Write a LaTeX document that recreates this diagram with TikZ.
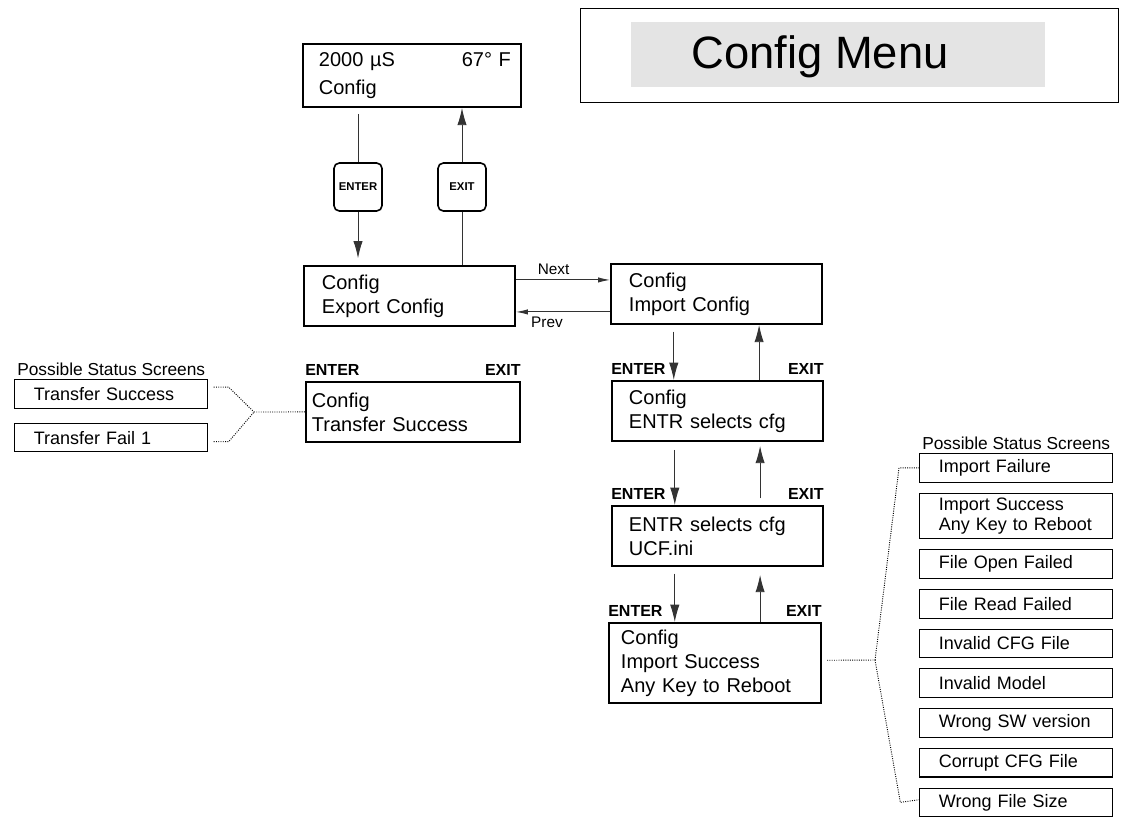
\documentclass[tikz,border=0pt]{standalone}
\usepackage{fontspec}
\setmainfont{Liberation Sans}
\usepackage{tikz}
\usetikzlibrary{positioning}
\usetikzlibrary{arrows.meta}
\definecolor{menugray}{HTML}{E4E4E4}
\tikzset{screen/.style={draw, line width=1.4pt, anchor=north west, align=left, inner ysep=0pt, minimum height=45pt, font=\fontsize{15}{18}\selectfont}}
\tikzset{status/.style={draw, line width=0.8pt, align=left, text width=116pt, inner xsep=14.5pt, inner ysep=0pt, minimum height=21.5pt, font=\fontsize{13.5}{15}\selectfont}}
\tikzset{key/.style={draw, line width=1.2pt, rounded corners=4pt, minimum size=36pt, inner sep=0pt, font=\fontsize{8.5}{10}\selectfont\bfseries}}
\tikzset{keylbl/.style={inner xsep=0pt, inner ysep=4pt, font=\fontsize{12}{14}\selectfont\bfseries}}
\tikzset{caption/.style={inner sep=1pt, font=\fontsize{13}{15}\selectfont}}
\tikzset{conn/.style={line width=0.7pt, draw=black!80}}
\tikzset{arr/.style={conn, -{Latex[length=13pt,width=7pt]}}}
\tikzset{arrs/.style={conn, -{Latex[length=9pt,width=4pt]}}}
\tikzset{dots/.style={line width=0.7pt, densely dotted}}

\begin{document}
\begin{tikzpicture}[x=0.75pt, y=-0.75pt, node distance=7.5pt]
\useasboundingbox (0,0) rectangle (1126,818);

\node[draw, line width=1.1pt, anchor=north west, minimum width=403.5pt, minimum height=70.5pt] (menu) at (580,8) {};
\node[fill=menugray, anchor=north west, minimum width=310.5pt, minimum height=48.75pt] (menufill) at (631,22) {};
\node[font=\fontsize{34}{40}\selectfont, anchor=base] (menutxt) at (820,68) {Config Menu};

\node[screen, text width=148.5pt, inner xsep=7.5pt, minimum height=47.25pt, font=\fontsize{15}{21}\selectfont] (top) at (302,43) {\makebox[\linewidth]{\hspace*{4.5pt}2000 µS\hfill 67° F}\\\hspace*{4.5pt}Config};
\node[key] (kenter) at (358,187) {ENTER};
\node[key] (kexit) at (462,187) {EXIT};
\node[screen, text width=131.25pt, inner xsep=13.5pt] (export) at (303,265) {Config\\Export Config};
\node[screen, text width=131.25pt, inner xsep=13.5pt] (import) at (610,263) {Config\\Import Config};
\node[screen, text width=132.75pt, inner xsep=12.75pt] (entr1) at (611,380) {Config\\ENTR selects cfg};
\node[screen, text width=132.75pt, inner xsep=12.75pt] (entr2) at (611,505) {ENTR selects cfg\\UCF.ini};
\node[screen, text width=141pt, inner xsep=9pt, minimum height=60pt] (success) at (608,622) {Config\\Import Success\\Any Key to Reboot};
\node[screen, text width=151.5pt, inner xsep=4.5pt] (transfer) at (305,381) {Config\\Transfer Success};

\node[keylbl, anchor=south west] (en1) at (entr1.north west) {ENTER};
\node[keylbl, anchor=south east] (ex1) at (entr1.north east) {EXIT};
\node[keylbl, anchor=south west] (en2) at (entr2.north west) {ENTER};
\node[keylbl, anchor=south east] (ex2) at (entr2.north east) {EXIT};
\node[keylbl, anchor=south west] (en3) at (success.north west) {ENTER};
\node[keylbl, anchor=south east] (ex3) at (success.north east) {EXIT};
\node[keylbl, anchor=south west] (en4) at (transfer.north west) {ENTER};
\node[keylbl, anchor=south east] (ex4) at (transfer.north east) {EXIT};

\node[status, anchor=north west] (ts) at (14,379) {Transfer Success};
\node[status, below=10.5pt of ts] (tf) {Transfer Fail 1};
\node[caption, above=1pt of ts] (capl) {Possible Status Screens};

\node[status, anchor=north west] (f1) at (919,453) {Import Failure};
\node[status, below=of f1, minimum height=34pt] (f2) {Import Success\\Any Key to Reboot};
\node[status, below=of f2] (f3) {File Open Failed};
\node[status, below=of f3] (f4) {File Read Failed};
\node[status, below=of f4] (f5) {Invalid CFG File};
\node[status, below=of f5] (f6) {Invalid Model};
\node[status, below=of f6] (f7) {Wrong SW version};
\node[status, below=of f7] (f8) {Corrupt CFG File};
\node[status, below=of f8] (f9) {Wrong File Size};
\node[caption, above=1pt of f1] (capr) {Possible Status Screens};

\draw[conn, shorten <=4.5pt] (kenter.north |- top.south) -- (kenter.north);
\draw[arr, shorten >=5pt] (kenter.south) -- (kenter.south |- export.north);
\draw[conn] (kexit.south |- export.north) -- (kexit.south);
\draw[arr] (kexit.north) -- (kexit.north |- top.south);

\draw[arrs] ([yshift=12pt]export.east) -- node[above, pos=0.4, font=\fontsize{11.5}{13}\selectfont] (nx) {Next} ([yshift=12pt]export.east -| import.west);
\draw[arrs] ([yshift=-12pt]export.east -| import.west) -- node[below, pos=0.67, font=\fontsize{11.5}{13}\selectfont] (pv) {Prev} ([yshift=-12pt]export.east);

\draw[arr, shorten <=5pt] ([xshift=-32pt]import.south) -- ([xshift=-32pt]import.south |- entr1.north);
\draw[arr] ([xshift=32pt]import.south |- entr1.north) -- ([xshift=32pt]import.south);
\draw[arr, shorten <=6pt] ([xshift=-32pt]entr1.south) -- ([xshift=-32pt]entr1.south |- entr2.north);
\draw[arr, shorten <=5pt, shorten >=3pt] ([xshift=32pt]entr1.south |- entr2.north) -- ([xshift=32pt]entr1.south);
\draw[arr, shorten <=5pt] ([xshift=-32pt]entr2.south) -- ([xshift=-32pt]entr2.south |- success.north);
\draw[arr, shorten >=6pt] ([xshift=32pt]entr2.south |- success.north) -- ([xshift=32pt]entr2.south);

\coordinate (jl) at (254,412);
\draw[dots] ([xshift=4pt,yshift=5pt]ts.east) -- ++(15,0) -- (jl);
\draw[dots] ([xshift=4pt,yshift=-3pt]tf.east) -- ++(15,0) -- (jl);
\draw[dots] (jl) -- (transfer.west);

\coordinate (jr) at (875,660);
\coordinate[left=15pt of f1.west] (ct);
\coordinate[left=14pt of f9.west] (cb);
\draw[dots] ([xshift=4pt,yshift=2pt]success.east) -- (jr);
\draw[dots] (jr) -- (ct) -- (f1.west);
\draw[dots] (jr) -- (cb) -- ([yshift=2pt]f9.west);
\end{tikzpicture}
\end{document}
